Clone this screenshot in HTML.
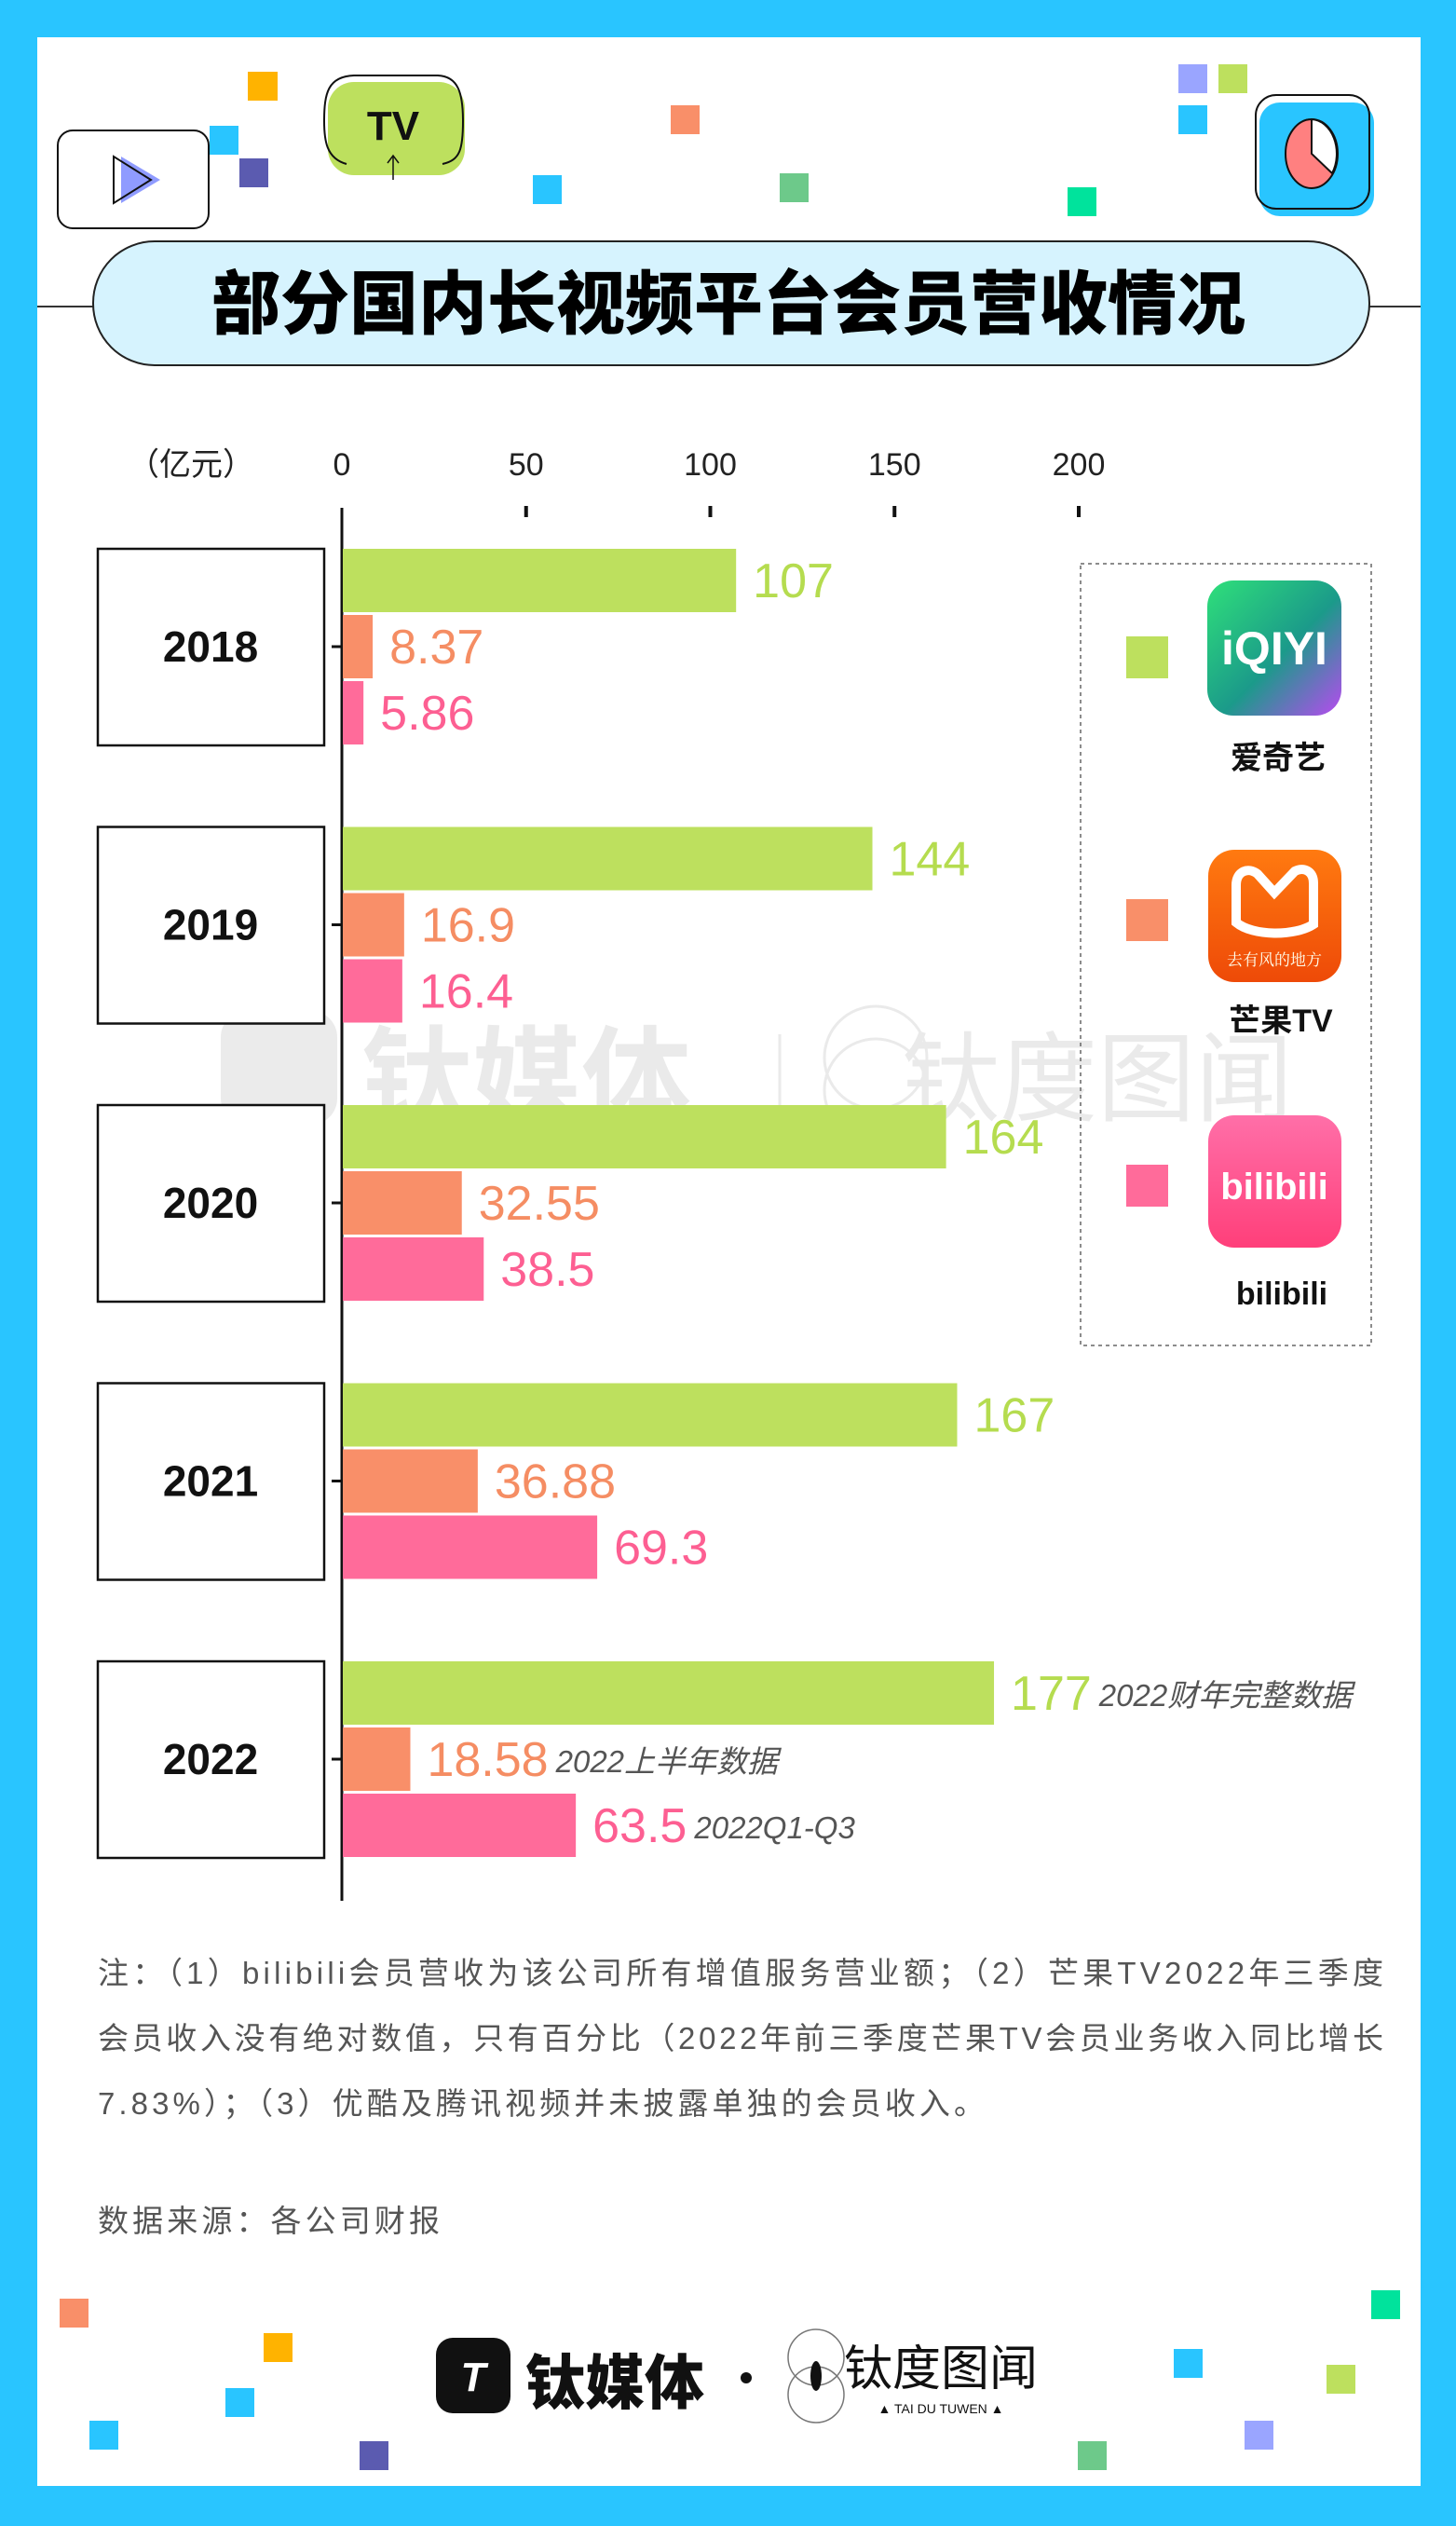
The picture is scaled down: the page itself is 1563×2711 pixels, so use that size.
<!DOCTYPE html>
<html><head><meta charset="utf-8">
<style>
html,body{margin:0;padding:0;}
body{width:1563px;height:2711px;background:#29c5ff;position:relative;overflow:hidden;font-family:"Liberation Sans","Noto Sans CJK SC",sans-serif;}
#card{position:absolute;left:40px;top:40px;width:1485px;height:2628px;background:#fff;}
svg{position:absolute;left:0;top:0;}
</style></head>
<body>
<div id="card"></div>
<svg id="chart" width="1563" height="2711" viewBox="0 0 1563 2711">
<defs>
<linearGradient id="gIq" x1="0" y1="0" x2="1" y2="1"><stop offset="0" stop-color="#2fe07a"/><stop offset="0.55" stop-color="#1b9a8a"/><stop offset="1" stop-color="#b84af0"/></linearGradient>
<linearGradient id="gMg" x1="0" y1="0" x2="0" y2="1"><stop offset="0" stop-color="#ff7a10"/><stop offset="1" stop-color="#ee4a08"/></linearGradient>
<linearGradient id="gBl" x1="0" y1="0" x2="0" y2="1"><stop offset="0" stop-color="#ff6fa8"/><stop offset="1" stop-color="#ff3f7a"/></linearGradient>
</defs>
<g>
<rect x="266" y="77" width="32" height="31" fill="#ffb300"/>
<rect x="225" y="135" width="31" height="31" fill="#29c5ff"/>
<rect x="257" y="170" width="31" height="31" fill="#5b5bb0"/>
<rect x="720" y="113" width="31" height="31" fill="#f98f69"/>
<rect x="572" y="188" width="31" height="31" fill="#29c5ff"/>
<rect x="837" y="186" width="31" height="31" fill="#6dc98a"/>
<rect x="1146" y="201" width="31" height="31" fill="#00e39c"/>
<rect x="1265" y="69" width="31" height="31" fill="#9aa5ff"/>
<rect x="1308" y="69" width="31" height="31" fill="#bde05e"/>
<rect x="1265" y="113" width="31" height="31" fill="#29c5ff"/>
<rect x="64" y="2467" width="31" height="31" fill="#f98f69"/>
<rect x="283" y="2504" width="31" height="31" fill="#ffb300"/>
<rect x="242" y="2563" width="31" height="31" fill="#29c5ff"/>
<rect x="96" y="2598" width="31" height="31" fill="#29c5ff"/>
<rect x="386" y="2620" width="31" height="31" fill="#5b5bb0"/>
<rect x="1472" y="2458" width="31" height="31" fill="#00e39c"/>
<rect x="1260" y="2521" width="31" height="31" fill="#29c5ff"/>
<rect x="1424" y="2538" width="31" height="31" fill="#bde05e"/>
<rect x="1336" y="2598" width="31" height="31" fill="#9aa5ff"/>
<rect x="1157" y="2620" width="31" height="31" fill="#6dc98a"/>
</g>
<g>
<rect x="62" y="140" width="162" height="105" rx="16" fill="#fff" stroke="#111" stroke-width="2"/>
<polygon points="130,168 172,193 130,218" fill="#8f9bff"/>
<polygon points="122,168 162,193 122,218" fill="none" stroke="#111" stroke-width="2"/>
</g>
<g>
<rect x="352" y="88" width="147" height="100" rx="28" fill="#bde05e"/>
<path d="M372 176 C350 170 348 150 348 130 C348 100 352 82 380 81 L470 81 C492 82 497 100 497 130 C497 160 494 172 475 176" fill="none" stroke="#111" stroke-width="2"/>
<text x="422" y="150" text-anchor="middle" font-size="44" font-weight="bold" fill="#111">TV</text>
<line x1="422" y1="193" x2="422" y2="168" stroke="#111" stroke-width="1.5"/>
<polyline points="416,175 422,167 428,175" fill="none" stroke="#111" stroke-width="1.5"/>
</g>
<g>
<rect x="1352" y="110" width="123" height="122" rx="22" fill="#29c5ff"/>
<rect x="1348" y="102" width="122" height="122" rx="22" fill="none" stroke="#111" stroke-width="2"/>
<ellipse cx="1408" cy="165" rx="28" ry="37" fill="#ff8080" stroke="#111" stroke-width="2"/>
<path d="M1408 128 A28 37 0 0 1 1430 186 L1408 165 Z" fill="#fff" stroke="#111" stroke-width="2"/>
</g>
<g>
<line x1="40" y1="329" x2="1525" y2="329" stroke="#333" stroke-width="2"/>
<rect x="100" y="259" width="1370" height="133" rx="66" fill="#d6f3fe" stroke="#222" stroke-width="2"/>
<text x="782" y="352" text-anchor="middle" font-size="74" font-weight="900" fill="#000">部分国内长视频平台会员营收情况</text>
</g>
<g opacity="0.08">
<rect x="237" y="1085" width="125" height="122" rx="28" fill="#000"/>
<text x="565" y="1200" text-anchor="middle" font-size="118" font-weight="bold" fill="#000">钛媒体</text>
<line x1="837" y1="1110" x2="837" y2="1205" stroke="#000" stroke-width="3"/>
<circle cx="940" cy="1135" r="55" fill="none" stroke="#000" stroke-width="3"/>
<circle cx="940" cy="1170" r="55" fill="none" stroke="#000" stroke-width="3"/>
<text x="1178" y="1195" text-anchor="middle" font-size="105" fill="#000">钛度图闻</text>
</g>
<g id="axes"></g>
<g id="bars"></g>
<g>
<rect x="1160" y="605" width="312" height="839" fill="none" stroke="#666" stroke-width="1.5" stroke-dasharray="4,4"/>
<g>
<rect x="1209" y="683" width="45" height="45" fill="#bde05e"/>
<rect x="1296" y="623" width="144" height="145" rx="28" fill="url(#gIq)"/>
<text x="1368" y="713" text-anchor="middle" font-size="50" font-weight="bold" fill="#fff">iQIYI</text>
<text x="1372" y="825" text-anchor="middle" font-size="34" font-weight="bold" fill="#111">爱奇艺</text>
</g>
<g>
<rect x="1209" y="965" width="45" height="45" fill="#f98f69"/>
<rect x="1297" y="912" width="143" height="142" rx="28" fill="url(#gMg)"/>
<path d="M1327 990 L1327 950 C1327 935 1340 930 1350 938 L1368 958 L1390 935 C1400 930 1410 935 1410 948 L1410 992 C1390 1005 1345 1005 1327 990 Z" fill="none" stroke="#fff" stroke-width="10"/>
<text x="1368" y="1036" text-anchor="middle" font-size="17" fill="#ffe" font-family="Noto Serif CJK SC,serif">去有风的地方</text>
<text x="1375" y="1107" text-anchor="middle" font-size="34" font-weight="bold" fill="#111">芒果TV</text>
</g>
<g>
<rect x="1209" y="1250" width="45" height="45" fill="#ff6b9a"/>
<rect x="1297" y="1197" width="143" height="142" rx="28" fill="url(#gBl)"/>
<text x="1368" y="1287" text-anchor="middle" font-size="40" font-weight="bold" fill="#fff">bilibili</text>
<text x="1376" y="1400" text-anchor="middle" font-size="34" font-weight="bold" fill="#111">bilibili</text>
</g>
</g>
<g font-size="33" fill="#555">
<text x="105" y="2129" textLength="1380" lengthAdjust="spacing">注：（1）bilibili会员营收为该公司所有增值服务营业额；（2）芒果TV2022年三季度</text>
<text x="105" y="2199" textLength="1380" lengthAdjust="spacing">会员收入没有绝对数值，只有百分比（2022年前三季度芒果TV会员业务收入同比增长</text>
<text x="105" y="2269" textLength="952" lengthAdjust="spacing">7.83%）；（3）优酷及腾讯视频并未披露单独的会员收入。</text>
<text x="105" y="2395" textLength="367" lengthAdjust="spacing">数据来源：各公司财报</text>
</g>
<g>
<rect x="468" y="2509" width="80" height="81" rx="18" fill="#111"/>
<text x="508" y="2566" text-anchor="middle" font-size="44" font-weight="bold" fill="#fff" font-style="italic">T</text>
<text x="660" y="2580" text-anchor="middle" font-size="64" font-weight="900" fill="#111">钛媒体</text>
<circle cx="801" cy="2552" r="6" fill="#111"/>
<circle cx="876" cy="2530" r="30" fill="none" stroke="#777" stroke-width="1.5"/>
<circle cx="876" cy="2570" r="30" fill="none" stroke="#777" stroke-width="1.5"/>
<ellipse cx="876" cy="2550" rx="6" ry="16" fill="#111"/>
<text x="1010" y="2560" text-anchor="middle" font-size="52" fill="#111">钛度图闻</text>
<text x="1010" y="2590" text-anchor="middle" font-size="14" fill="#111">▲ TAI DU TUWEN ▲</text>
</g>
</svg>
<script>
const years = ["2018","2019","2020","2021","2022"];
const iqiyi = [107,144,164,167,177];
const mango = [8.37,16.9,32.55,36.88,18.58];
const bili = [5.86,16.4,38.5,69.3,63.5];
const valueLabels = [["107","8.37","5.86"],["144","16.9","16.4"],["164","32.55","38.5"],["167","36.88","69.3"],["177","18.58","63.5"]];
const tickValues = [0,50,100,150,200];
const notes2022 = ["2022财年完整数据","2022上半年数据","2022Q1-Q3"];

const NS = "http://www.w3.org/2000/svg";
const X0 = 367, PXU = 3.955;
const xs = v => X0 + v * PXU;
const groupTop = i => 589 + i * 298.5;
const BH = 68, PITCH = 71;
const colors = ["#bde05e","#f98f69","#ff6b9a"];
const labelColors = ["#b5dc4f","#f58d63","#fd5f92"];
function mk(tag, attrs, parent){const e=document.createElementNS(NS,tag);for(const k in attrs)e.setAttribute(k,attrs[k]);parent.appendChild(e);return e;}
const axes = document.getElementById('axes');
const bars = document.getElementById('bars');

const unit = mk('text',{x:205,y:510,'text-anchor':'middle','font-size':34,fill:'#222'},axes);
unit.textContent='（亿元）';


const axLine = mk('line',{x1:X0,y1:545,x2:X0,y2:2040,stroke:'#111','stroke-width':3},axes);


tickValues.forEach(v=>{
  const t = mk('text',{x:xs(v),y:510,'text-anchor':'middle','font-size':34,fill:'#222'},axes);
  t.textContent = String(v);
  
  
  if(v>0){
    const tk = mk('rect',{x:xs(v)-2,y:543,width:4,height:12,fill:'#111'},axes);
    
    
  }
});
const series = [iqiyi, mango, bili];
years.forEach((y,i)=>{
  const top = groupTop(i);
  const box = mk('rect',{x:105,y:top,width:243,height:211,fill:'#fff',stroke:'#111','stroke-width':2.5},bars);
  
  
  const yt = mk('text',{x:226,y:top+121,'text-anchor':'middle','font-size':46,'font-weight':'bold',fill:'#111'},bars);
  yt.textContent = y;
  
  
  const tm = mk('line',{x1:356,y1:top+105,x2:X0,y2:top+105,stroke:'#111','stroke-width':3},bars);
  
  
  series.forEach((s,k)=>{
    const by = top + k*PITCH;
    const r = mk('rect',{x:X0+1,y:by,width:Math.max(0,xs(s[i])-X0-1),height:BH,fill:colors[k]},bars);
    
    
    const lt = mk('text',{x:xs(s[i])+18,y:by+52,'font-size':52,fill:labelColors[k]},bars);
    lt.textContent = valueLabels[i][k];
    
    
    if(y==="2022"){
      const w = lt.getComputedTextLength ? lt.getComputedTextLength() : 80;
      const nt = mk('text',{x:xs(s[i])+18+w+8,y:by+48,'font-size':33,'font-style':'italic',fill:'#555'},bars);
      nt.textContent = notes2022[k];
      
      
    }
  });
});
</script>
</body></html>
